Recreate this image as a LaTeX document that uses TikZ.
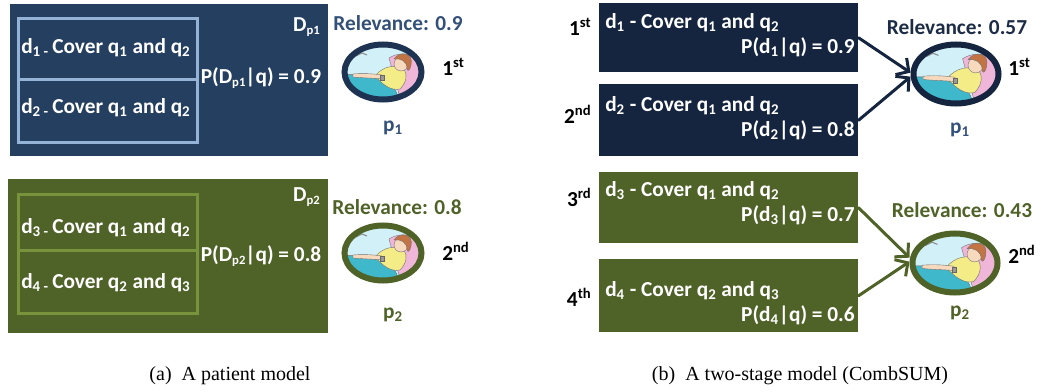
\documentclass[tikz,border=0pt]{standalone}
\usepackage{fontspec}
\setmainfont{Carlito}
\newfontfamily\capfont{Liberation Serif}
\usetikzlibrary{shapes.geometric,arrows.meta,shadows}

\definecolor{panelblue}{HTML}{243F60}
\definecolor{edgeblue}{HTML}{95B3D7}
\definecolor{navy}{HTML}{15253F}
\definecolor{olive}{HTML}{4F6228}
\definecolor{edgegreen}{HTML}{77933C}
\definecolor{relblue}{HTML}{33507A}
\definecolor{relnavy}{HTML}{1C2C46}
\definecolor{ringblue}{HTML}{1E3352}
\definecolor{skyfill}{HTML}{D2F0F7}
\definecolor{blanket}{HTML}{3FB8CC}
\definecolor{pillow}{HTML}{F0B6DA}
\definecolor{shirt}{HTML}{F4EC86}
\definecolor{skin}{HTML}{F7D9BE}
\definecolor{hair}{HTML}{C27445}

\newcommand\sbs[1]{\textsubscript{#1}}
\newcommand\tsbs[1]{\raisebox{-0.3ex}{\fontsize{9.5}{10}\selectfont #1}}
\newcommand\sps[1]{\raisebox{0.75ex}{\fontsize{11}{11}\selectfont #1}}

% cartoon of a patient lying in bed, drawn around the origin (y up)
\newcommand\drawpatient{%
  \filldraw[fill=pillow, draw=black!55, line width=0.3pt]
    (6,14) .. controls (22,24) and (40,14) .. (41,0)
    .. controls (42,-14) and (30,-24) .. (16,-22) -- cycle;
  \filldraw[fill=blanket, draw=black!60, line width=0.3pt]
    (-48,-34) -- (-48,-4) .. controls (-28,0) and (-6,-5) .. (5,-11)
    .. controls (12,-15) and (17,-24) .. (15,-34) -- cycle;
  \filldraw[fill=shirt, draw=black!55, line width=0.3pt]
    (-8,-4) .. controls (0,6) and (12,8) .. (21,3)
    .. controls (25,-3) and (23,-11) .. (17,-17)
    .. controls (8,-19) and (0,-13) .. (-8,-4) -- cycle;
  \filldraw[fill=skin, draw=black!55, line width=0.3pt]
    (-30,-2) .. controls (-18,-1) and (-8,-2) .. (-1,-3)
    -- (0,-7) .. controls (-10,-6) and (-20,-6) .. (-30,-5) -- cycle;
  \filldraw[fill=black!40, draw=black!60, line width=0.3pt]
    (-3,-3.5) rectangle (1.5,-8);
  \filldraw[fill=skin, draw=black!55, line width=0.3pt] (18,8) circle (7);
  \filldraw[fill=hair, draw=black!55, line width=0.3pt]
    (11,13) .. controls (17,22) and (31,19) .. (28,7)
    .. controls (27,2) and (25,0) .. (24,3)
    .. controls (24,11) and (18,14) .. (11,13) -- cycle;
  \draw[black!45, line width=0.8pt] (-27,16) -- (-21,19) -- (-16,17);
}

\tikzset{
  every node/.style={font=\fontsize{16}{18.75}\selectfont\bfseries},
  panel/.style={anchor=north west, inner sep=0pt, draw=none},
  docbox/.style={anchor=north west, inner sep=0pt, line width=2.25pt,
    minimum width=134.25pt},
  wtext/.style={text=white, inner sep=0pt},
  rank/.style={text=black, inner sep=0pt},
  patient/.style 2 args={ellipse, inner sep=0pt, fill=skyfill, draw=#1,
    line width=4.5pt,
    drop shadow={opacity=0.35, shadow xshift=0pt, shadow yshift=-2pt},
    path picture={\begin{scope}[shift={(path picture bounding box.center)},
      x=#2, y=#2]\drawpatient\end{scope}}},
  arr/.style={line width=2.25pt, line cap=round,
    -{Straight Barb[length=7pt, width=15pt, line width=2.25pt]}},
  caption/.style={font=\capfont\fontsize{15}{17}\selectfont, inner sep=0pt}
}

\begin{document}
\begin{tikzpicture}[x=0.75pt, y=-0.75pt]
\path[use as bounding box] (0,0) rectangle (1046,392);

% ---------------- (a) patient model ----------------
\node[panel, fill=panelblue, minimum width=238.5pt, minimum height=114pt]
  (pa1) at (10,4) {};
\node[docbox, draw=edgeblue, minimum height=45.4pt] (a1) at (16.5,17.5) {};
\node[docbox, draw=edgeblue, minimum height=46.9pt] (a2) at (16.5,78) {};
\node[wtext, anchor=mid west] (a1t) at (21,50)
  {d\sbs{1 - }Cover q\sbs{1} and q\sbs{2}};
\node[wtext, anchor=mid west] (a2t) at (21,110)
  {d\sbs{2 - }Cover q\sbs{1} and q\sbs{2}};
\node[wtext, anchor=mid east] (dp1) at (320,28) {D\tsbs{p1}};
\node[wtext, anchor=mid] (pp1) at (261,80) {P(D\tsbs{p1}|q) = 0.9};

\node[panel, fill=olive, minimum width=240pt, minimum height=115.5pt]
  (pa2) at (8,179) {};
\node[docbox, draw=edgegreen, minimum height=41.6pt] (a3) at (16.5,193.5) {};
\node[docbox, draw=edgegreen, minimum height=46.9pt] (a4) at (16.5,249) {};
\node[wtext, anchor=mid west] (a3t) at (21,230)
  {d\sbs{3 - }Cover q\sbs{1} and q\sbs{2}};
\node[wtext, anchor=mid west] (a4t) at (21,285)
  {d\sbs{4 - }Cover q\sbs{2} and q\sbs{3}};
\node[wtext, anchor=mid east] (dp2) at (320,198) {D\tsbs{p2}};
\node[wtext, anchor=mid] (pp2) at (261,258) {P(D\tsbs{p2}|q) = 0.8};

\node[text=relblue, inner sep=0pt] (ra1) at (398,23) {Relevance: 0.9};
\node[patient={ringblue}{0.75pt}, minimum width=57.75pt, minimum height=41.25pt]
  (oa1) at (383,72) {};
\node[rank, anchor=mid west] (ka1) at (442,72) {1\sps{st}};
\node[text=relblue, inner sep=0pt] (la1) at (393,128) {p\sbs{1}};

\node[text=olive, inner sep=0pt] (ra2) at (397,207) {Relevance: 0.8};
\node[patient={olive}{0.75pt}, minimum width=57.75pt, minimum height=41.25pt]
  (oa2) at (383,253) {};
\node[rank, anchor=mid west] (ka2) at (442,257) {2\sps{nd}};
\node[text=olive, inner sep=0pt] (la2) at (393,315) {p\sbs{2}};

% ---------------- (b) two-stage model ----------------
\node[panel, fill=navy, minimum width=194.25pt, minimum height=51.75pt]
  (b1) at (599,3) {};
\node[panel, fill=navy, minimum width=194.25pt, minimum height=54pt]
  (b2) at (599,84) {};
\node[panel, fill=olive, minimum width=194.25pt, minimum height=53.25pt]
  (b3) at (599,172) {};
\node[panel, fill=olive, minimum width=194.25pt, minimum height=54.75pt]
  (b4) at (599,259) {};

\node[wtext, anchor=mid west] (b1t) at (605,25) {d\sbs{1} - Cover q\sbs{1} and q\sbs{2}};
\node[wtext, anchor=mid east] (b1p) at (855,50) {P(d\sbs{1}|q) = 0.9};
\node[wtext, anchor=mid west] (b2t) at (605,108) {d\sbs{2} - Cover q\sbs{1} and q\sbs{2}};
\node[wtext, anchor=mid east] (b2p) at (855,133) {P(d\sbs{2}|q) = 0.8};
\node[wtext, anchor=mid west] (b3t) at (605,193) {d\sbs{3} - Cover q\sbs{1} and q\sbs{2}};
\node[wtext, anchor=mid east] (b3p) at (855,218) {P(d\sbs{3}|q) = 0.7};
\node[wtext, anchor=mid west] (b4t) at (605,293) {d\sbs{4} - Cover q\sbs{2} and q\sbs{3}};
\node[wtext, anchor=mid east] (b4p) at (855,318) {P(d\sbs{4}|q) = 0.6};

\node[rank, anchor=mid east] (kb1) at (591,32) {1\sps{st}};
\node[rank, anchor=mid east] (kb2) at (591,120) {2\sps{nd}};
\node[rank, anchor=mid east] (kb3) at (591,203) {3\sps{rd}};
\node[rank, anchor=mid east] (kb4) at (591,303) {4\sps{th}};

\node[text=relnavy, inner sep=0pt] (rb1) at (957,27) {Relevance: 0.57};
\node[patient={navy}{0.82pt}, minimum width=63.75pt, minimum height=44.25pt]
  (ob1) at (956,74) {};
\node[rank, anchor=mid west] (kc1) at (1008,72) {1\sps{st}};
\node[text=relblue, inner sep=0pt] (lb1) at (960,130) {p\sbs{1}};

\node[text=olive, inner sep=0pt] (rb2) at (962,210) {Relevance: 0.43};
\node[patient={olive}{0.82pt}, minimum width=63.75pt, minimum height=44.25pt]
  (ob2) at (955,263) {};
\node[rank, anchor=mid west] (kc2) at (1008,260) {2\sps{nd}};
\node[text=olive, inner sep=0pt] (lb2) at (960,313) {p\sbs{2}};

\draw[arr, navy] (b1.east) -- ([yshift=1pt]ob1.west);
\draw[arr, navy] (b2.east) -- ([yshift=-2pt]ob1.west);
\draw[arr, olive] (b3.east) -- ([yshift=4pt]ob2.west);
\draw[arr, olive] (b4.east) -- ([yshift=1pt]ob2.west);

% ---------------- captions ----------------
\node[caption] (ca) at (230,376) {(a)\enspace A patient model};
\node[caption] (cb) at (800,376) {(b)\enspace A two-stage model (CombSUM)};
\end{tikzpicture}
\end{document}
